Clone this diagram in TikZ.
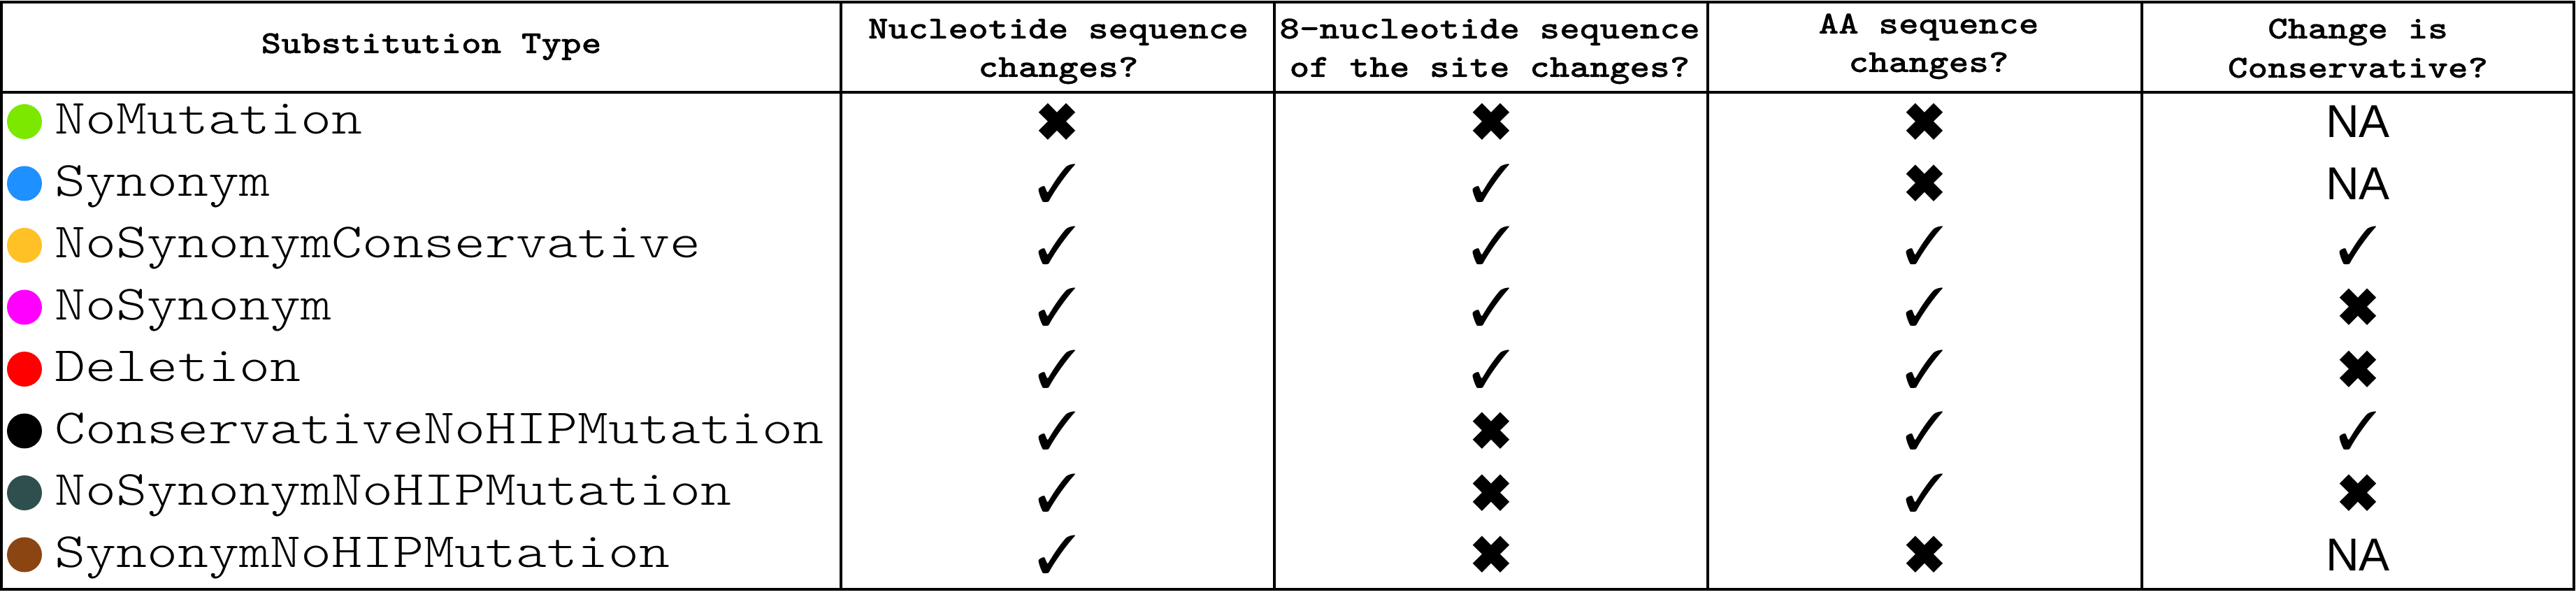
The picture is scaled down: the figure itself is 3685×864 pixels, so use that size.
\documentclass[tikz,border=0pt]{standalone}
\usepackage{fontspec}
\usepackage{pifont}
\newfontfamily\lablight[FakeStretch=1.19]{lmmonolt10-regular.otf}
\newfontfamily\hdrbold[FakeStretch=1.19,FakeBold=0.6]{lmmonolt10-bold.otf}
\newfontfamily\sansf{Liberation Sans}
\definecolor{cgreen}{RGB}{124,232,0}
\definecolor{cblue}{RGB}{30,144,255}
\definecolor{corange}{RGB}{255,193,37}
\definecolor{cmagenta}{RGB}{255,0,255}
\definecolor{cred}{RGB}{255,0,0}
\definecolor{cblack}{RGB}{0,0,0}
\definecolor{cslate}{RGB}{47,79,79}
\definecolor{cbrown}{RGB}{139,69,19}
\newcommand\cyes{{\fontsize{19pt}{19pt}\selectfont\ding{51}}}
\newcommand\cno{{\fontsize{19pt}{19pt}\selectfont\ding{54}}}
\newcommand\cna{{\sansf\fontsize{16.5pt}{16.5pt}\selectfont NA}}
\begin{document}
\begin{tikzpicture}[x=0.25pt,y=-0.25pt,
  rule/.style={line width=1pt},
  dot/.style={circle,inner sep=0pt,minimum size=12.5pt},
  lab/.style={anchor=base west,inner sep=0pt,font=\lablight\fontsize{17.6pt}{22pt}\selectfont},
  hdr/.style={anchor=base,inner sep=0pt,font=\hdrbold\fontsize{11.46pt}{14pt}\selectfont},
  cell/.style={anchor=center,inner sep=0pt}]
\useasboundingbox (0,0) rectangle (3685,864);
\fill[white] (0,0) rectangle (3685,864);
% grid
\coordinate (tl) at (2,3);
\coordinate (br) at (3682,843);
\draw[rule] (tl) rectangle (br);
\coordinate (hl) at (2,132);
\coordinate (hr) at (3682,132);
\draw[rule] (hl) -- (hr);
\foreach \x [count=\k] in {1203,1823,2443,3064}{
  \coordinate (vt\k) at (\x,3);
  \coordinate (vb\k) at (\x,843);
  \draw[rule] (vt\k) -- (vb\k);
}
% header
\node[hdr] (h1) at (617,76) {Substitution Type};
\node[hdr] (h2a) at (1514,55) {Nucleotide sequence};
\node[hdr] (h2b) at (1514,110) {changes?};
\node[hdr] (h3a) at (2131,55) {8-nucleotide sequence};
\node[hdr] (h3b) at (2131,110) {of the site changes?};
\node[hdr] (h4a) at (2759,48) {AA sequence};
\node[hdr] (h4b) at (2759,103) {changes?};
\node[hdr] (h5a) at (3373,55) {Change is};
\node[hdr] (h5b) at (3373,111) {Conservative?};
% rows
\foreach \i/\col/\lab/\a/\b/\c/\d in {
  0/cgreen/NoMutation/\cno/\cno/\cno/\cna,
  1/cblue/Synonym/\cyes/\cyes/\cno/\cna,
  2/corange/NoSynonymConservative/\cyes/\cyes/\cyes/\cyes,
  3/cmagenta/NoSynonym/\cyes/\cyes/\cyes/\cno,
  4/cred/Deletion/\cyes/\cyes/\cyes/\cno,
  5/cblack/ConservativeNoHIPMutation/\cyes/\cno/\cyes/\cyes,
  6/cslate/NoSynonymNoHIPMutation/\cyes/\cno/\cyes/\cno,
  7/cbrown/SynonymNoHIPMutation/\cyes/\cno/\cno/\cna}{
  \pgfmathsetmacro\yc{174+88.5*\i}
  \pgfmathsetmacro\yb{192+88.5*\i}
  \node[dot,fill=\col] (dot\i) at (35,\yc) {};
  \node[lab] (lab\i) at (78,\yb) {\lab};
  \node[cell] (a\i) at (1512,\yc) {\a};
  \node[cell] (b\i) at (2133,\yc) {\b};
  \node[cell] (c\i) at (2753,\yc) {\c};
  \node[cell] (d\i) at (3373,\yc) {\d};
}
\end{tikzpicture}
\end{document}
